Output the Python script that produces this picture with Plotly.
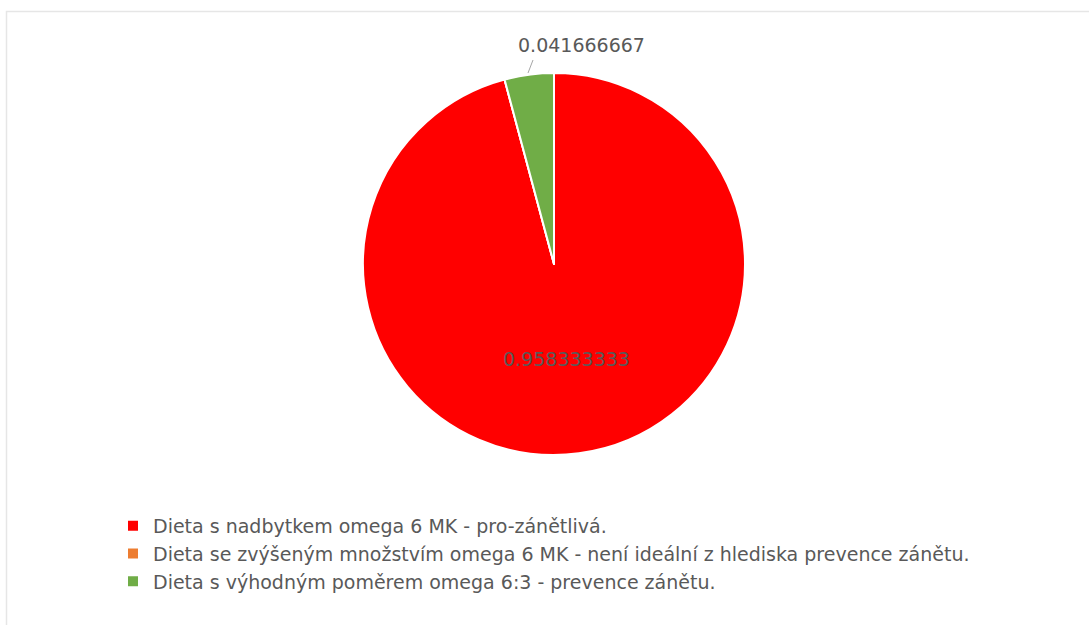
import plotly.graph_objects as go

categories = [
    "Dieta s nadbytkem omega 6 MK - pro-zánětlivá.",
    "Dieta se zvýšeným množstvím omega 6 MK - není ideální z hlediska prevence zánětu.",
    "Dieta s výhodným poměrem omega 6:3 - prevence zánětu.",
]
values = [0.958333333, 0.0, 0.041666667]
colors = ["#FF0000", "#ED7D31", "#70AD47"]
text_positions = ["inside", "none", "none"]

W, H = 1089, 625
FONT = "DejaVu Sans"
TXT = "#595959"

fig = go.Figure(
    go.Pie(
        labels=categories,
        values=values,
        sort=False,
        direction="clockwise",
        rotation=0,
        marker=dict(colors=colors, line=dict(color="white", width=2)),
        text=[f"{v:.9f}" for v in values],
        textinfo="text",
        textposition=text_positions,
        insidetextorientation="horizontal",
        textfont=dict(family=FONT, size=19, color=TXT),
        domain=dict(x=[363 / W, 745 / W], y=[1 - 455 / H, 1 - 73 / H]),
        hoverinfo="label+value",
    )
)

fig.update_layout(
    width=W,
    height=H,
    margin=dict(l=0, r=0, t=0, b=0),
    paper_bgcolor="white",
    showlegend=True,
    legend=dict(
        x=113 / W,
        y=1 - 507 / H,
        xanchor="left",
        yanchor="top",
        font=dict(family=FONT, size=19, color=TXT),
        traceorder="normal",
        tracegroupgap=0,
    ),
    annotations=[
        dict(
            text=f"{values[2]:.9f}", xref="paper", yref="paper",
            x=581 / W, y=1 - 45 / H, xanchor="center", yanchor="middle",
            showarrow=False, font=dict(family=FONT, size=19, color=TXT),
        )
    ],
    shapes=[
        dict(
            type="rect", xref="paper", yref="paper",
            x0=6.5 / W, x1=1.2, y0=-0.2, y1=1 - 11.5 / H,
            line=dict(color="#E6E6E6", width=1.5), fillcolor="rgba(0,0,0,0)",
        ),
        dict(
            type="line", xref="paper", yref="paper",
            x0=528 / W, y0=1 - 73 / H, x1=533 / W, y1=1 - 60 / H,
            line=dict(color="#A6A6A6", width=1),
        ),
    ],
)

fig.write_html(
    "out.html",
    config={"displayModeBar": False},
    post_script="document.body.style.margin='0';document.body.style.padding='0';",
)
